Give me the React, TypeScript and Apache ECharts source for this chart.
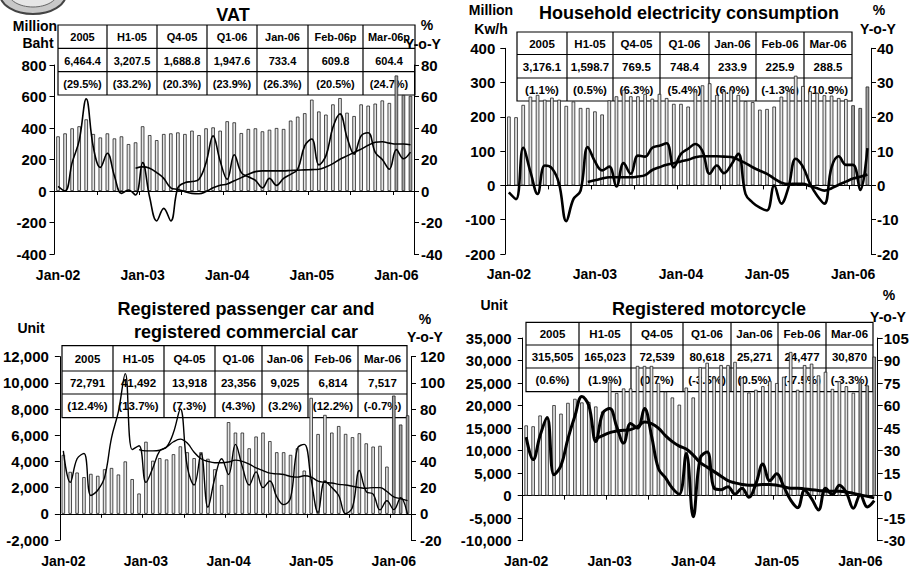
import React, { useEffect, useRef } from "react";
import * as echarts from "echarts";

const FONT = '"Liberation Sans", Arial, Helvetica, sans-serif';

const months = [
  "Jan-02","Feb-02","Mar-02","Apr-02","May-02","Jun-02","Jul-02","Aug-02","Sep-02","Oct-02","Nov-02","Dec-02",
  "Jan-03","Feb-03","Mar-03","Apr-03","May-03","Jun-03","Jul-03","Aug-03","Sep-03","Oct-03","Nov-03","Dec-03",
  "Jan-04","Feb-04","Mar-04","Apr-04","May-04","Jun-04","Jul-04","Aug-04","Sep-04","Oct-04","Nov-04","Dec-04",
  "Jan-05","Feb-05","Mar-05","Apr-05","May-05","Jun-05","Jul-05","Aug-05","Sep-05","Oct-05","Nov-05","Dec-05",
  "Jan-06","Feb-06","Mar-06"
];

// ---------- VAT ----------
const vatValues = [
  347, 366, 398, 411, 455, 362, 340, 366, 334, 347, 298, 309,
  411, 355, 323, 362, 366, 372, 362, 383, 355, 398, 404, 383,
  443, 436, 368, 394, 398, 379, 389, 400, 394, 447, 472, 494,
  580, 505, 485, 550, 590, 497, 476, 550, 542, 555, 575, 559,
  733.4, 609.8, 604.4
];
const vatYoY = [
  3, 0, 18, 32, 58.5, 28, 15, 24, 9.6, -1.5, 0.6, -2.5,
  18, -4, -19, -11, -19, 2, 5.3, 6, 7.4, 18, 35, 19,
  7.4, 23, 11.7, 9, 6.8, 2, 8, 3.6, 8, 10.6, 13.8, 28.7,
  33, 16.6, 22.3, 40.4, 49, 34, 23.4, 35, 37, 24.5, 20, 13.8,
  26.3, 20.5, 24.7
];
const vatCumYoY = [
  null, null, null, null, null, null, null, null, null, null, null, 14.5,
  15.3, 14.5, 11.7, 8, 2, 1, -0.4, -1.5, -1.7, -0.4, 2, 3.6,
  4.5, 6.5, 8.5, 10.6, 12.3, 12.8, 12.8, 12.8, 12.8, 13, 13.2, 13.4,
  13.6, 13.8, 15.3, 17.4, 20.2, 22.3, 24.5, 26.6, 29, 30.9, 31.3, 30.4,
  29.8, 29.8, 29.4
];
const vatHeader = ["2005", "H1-05", "Q4-05", "Q1-06", "Jan-06", "Feb-06p", "Mar-06p"];
const vatTotals = ["6,464.4", "3,207.5", "1,688.8", "1,947.6", "733.4", "609.8", "604.4"];
const vatGrowth = ["(29.5%)", "(33.2%)", "(20.3%)", "(23.9%)", "(26.3%)", "(20.5%)", "(24.7%)"];

// ---------- Electricity ----------
const elecValues = [
  201, 199, 235, 259, 264, 250, 256, 250, 232, 245, 226, 226,
  216, 207, 248, 260, 279, 260, 260, 267, 253, 267, 255, 238,
  238, 230, 274, 292, 298, 264, 275, 279, 264, 246, 243, 221,
  223, 230, 259, 275, 320, 290, 275, 270, 263, 262, 255, 252,
  233.9, 225.9, 288.5
];
const elecYoY = [
  -2, -4, 11, 4, -2.5, 5.8, 5, 0.5, -10.4, -4, -1.5, 11.2,
  7, 4.4, 5.5, -0.3, 6.5, 3.4, 8.7, 8.4, 11, 11.6, 12.3, 5.3,
  9.2, 10.7, 12.1, 10, 3.4, 5.8, 3.6, 6, 9.2, -2.5, -5, -6.5,
  -7.3, 0, -5.3, -0.5, 7.8, 5.5, 0.5, -3, -5.3, 5.3, 8.5, 6,
  6.0, -1.3, 10.9
];
const elecCumYoY = [
  null, null, null, null, null, null, null, null, null, null, null, 1,
  1.5, 2, 2.4, 2.4, 2.4, 2.4, 2.6, 3, 4.5, 5.3, 6, 6.5,
  7, 7.5, 8.2, 8.5, 8.5, 8.5, 8.4, 8.3, 7.5, 6.5, 5.3, 4.3,
  3.4, 2, 0.8, 0.4, 0.5, 0.5, -0.2, -0.8, -1.5, -0.8, 0.2, 1.1,
  2, 2.5, 3.2
];
const elecHeader = ["2005", "H1-05", "Q4-05", "Q1-06", "Jan-06", "Feb-06", "Mar-06"];
const elecTotals = ["3,176.1", "1,598.7", "769.5", "748.4", "233.9", "225.9", "288.5"];
const elecGrowth = ["(1.1%)", "(0.5%)", "(6.3%)", "(5.4%)", "(6.0%)", "(-1.3%)", "(10.9%)"];

// ---------- Cars ----------
const carValues = [
  4500, 3200, 3150, 2800, 3050, 2900, 3400, 3500, 3000, 4000, 2650, 1550,
  5500, 4050, 4250, 4150, 4550, 5150, 4700, 4250, 4700, 4200, 3400, 2200,
  7000, 6200, 6200, 5000, 5900, 6200, 5550, 4700, 4700, 4500, 5000, 3300,
  8850, 6090, 7550, 6200, 6700, 6100, 5850, 6150, 5380, 5130, 5190, 3600,
  9025, 6814, 7517
];
const carYoY = [
  48, 24, 42, 46, 14, 18, 28, 58, 78, 107, 49, 52,
  24, 35, 48, 51, 62, 80, 36, 22, 46, 5, 27, 42,
  30, 53, 36, 22, 32, 20, 25, 13, 7, 12, 50, 53,
  26, 1, 25, 20, 14, 0, 5, 33, 17, 15, 3, 10,
  3.2, 12.2, -0.7
];
const carCumYoY = [
  null, null, null, null, null, null, null, null, null, null, null, 49,
  48, 48, 48.5, 51, 55, 57, 54, 47, 42, 40, 39, 39,
  39.5, 41, 40, 38, 35, 33, 31, 30.5, 30, 28.5, 28, 29,
  28, 25, 24, 23.5, 22.5, 22, 21, 20, 19.5, 20, 20, 17,
  13, 11.5, 10
];
const carHeader = ["2005", "H1-05", "Q4-05", "Q1-06", "Jan-06", "Feb-06", "Mar-06"];
const carTotals = ["72,791", "41,492", "13,918", "23,356", "9,025", "6,814", "7,517"];
const carGrowth = ["(12.4%)", "(13.7%)", "(7.3%)", "(4.3%)", "(3.2%)", "(12.2%)", "(-0.7%)"];

// ---------- Motorcycle ----------
const motoValues = [
  15600, 15400, 17800, 17000, 20100, 18200, 20600, 21500, 20700, 20800, 19800, 18700,
  25300, 22800, 23800, 23800, 28800, 28800, 28800, 25000, 23100, 21800, 20200, 24000,
  21800, 28500, 29500, 26200, 29000, 29000, 29700, 26200, 22900, 23500, 24300, 25500,
  25000, 26400, 31900, 23500, 29000, 29300, 26700, 27500, 23700, 25400, 24300, 22840,
  25271, 24477, 30870
];
const motoYoY = [
  39, 24, 40, 52, 14, 20, 38, 53, 66, 60, 36, 55,
  58, 46, 35, 48, 45, 58, 40, 18, 12, 5, 1, 28,
  -14, 25, 29, 5, 4, 6, 1, 5, -1, 8, 21, 10,
  14.6, 6, -3, -8, 3.6, -2, -9.5, 5, 0.7, 7, 2, -8.4,
  0.5, -7.5, -3.3
];
const motoCumYoY = [
  null, null, null, null, null, null, null, null, null, null, 38, 40,
  42, 43, 43.5, 44, 46, 49, 48, 45, 40, 36, 33, 31,
  27, 22, 19, 16, 13, 10, 8.5, 7.5, 7, 7, 7.5, 7.5,
  7, 6, 5, 5, 4.5, 4, 3.5, 3, 3, 3, 2.5, 1.5,
  0.5, -0.5, -1.5
];
const motoHeader = ["2005", "H1-05", "Q4-05", "Q1-06", "Jan-06", "Feb-06", "Mar-06"];
const motoTotals = ["315,505", "165,023", "72,539", "80,618", "25,271", "24,477", "30,870"];
const motoGrowth = ["(0.6%)", "(1.9%)", "(0.7%)", "(-3.5%)", "(0.5%)", "(-7.5%)", "(-3.3%)"];

// ---------- layout ----------
type Panel = {
  grid: { left: number; top: number; width: number; height: number };
  yl: [number, number, number];
  yr: [number, number, number];
  bars: number[];
  yoy: (number | null)[];
  cum: (number | null)[];
  lw: number;
  xMargin: number;
  lMargin: number;
  rMargin: number;
  table: { cols: number[]; rows: number[]; lines: string[][]; size: number };
  texts: { t: string; x: number; y: number; s: number }[];
};

const panels: Panel[] = [
  {
    grid: { left: 54.5, top: 65, width: 359.5, height: 189 },
    yl: [-400, 800, 200], yr: [-40, 80, 20],
    bars: vatValues, yoy: vatYoY, cum: vatCumYoY, lw: 1.6,
    xMargin: 14, lMargin: 8, rMargin: 7,
    table: { cols: [58, 107, 157, 207, 257, 308, 363, 415], rows: [25, 48.3, 71.7, 95], lines: [vatHeader, vatTotals, vatGrowth], size: 11 },
    texts: [
      { t: "VAT", x: 233, y: 15, s: 18 },
      { t: "Million", x: 35, y: 26, s: 14 },
      { t: "Baht", x: 38, y: 43, s: 14 },
      { t: "%", x: 427, y: 25, s: 14 },
      { t: "Y-o-Y", x: 423, y: 44, s: 14 },
    ],
  },
  {
    grid: { left: 505.3, top: 48.3, width: 365.7, height: 205.7 },
    yl: [-200, 400, 100], yr: [-20, 40, 10],
    bars: elecValues, yoy: elecYoY, cum: elecCumYoY, lw: 2.6,
    xMargin: 13, lMargin: 10, rMargin: 6,
    table: { cols: [517, 567, 613, 660, 709, 756, 804, 852], rows: [32, 54.5, 78, 101], lines: [elecHeader, elecTotals, elecGrowth], size: 11.5 },
    texts: [
      { t: "Household electricity consumption", x: 689, y: 13, s: 18 },
      { t: "Million", x: 491, y: 10, s: 14 },
      { t: "Kw/h", x: 491, y: 29, s: 14 },
      { t: "%", x: 879, y: 10, s: 14 },
      { t: "Y-o-Y", x: 878, y: 29, s: 14 },
    ],
  },
  {
    grid: { left: 58.3, top: 356.6, width: 352.7, height: 183.4 },
    yl: [-2000, 12000, 2000], yr: [-20, 120, 20],
    bars: carValues, yoy: carYoY, cum: carCumYoY, lw: 1.4,
    xMargin: 14, lMargin: 11, rMargin: 9,
    table: { cols: [62, 113, 164, 215, 262, 308, 358, 407], rows: [345.7, 371, 394, 417.7], lines: [carHeader, carTotals, carGrowth], size: 11.5 },
    texts: [
      { t: "Registered passenger car and", x: 246, y: 309, s: 18 },
      { t: "registered commercial car", x: 246, y: 332, s: 18 },
      { t: "Unit", x: 31, y: 328, s: 14 },
      { t: "%", x: 425, y: 319, s: 14 },
      { t: "Y-o-Y", x: 425, y: 337, s: 14 },
    ],
  },
  {
    grid: { left: 522.7, top: 338, width: 355, height: 202.7 },
    yl: [-10000, 35000, 5000], yr: [-30, 105, 15],
    bars: motoValues, yoy: motoYoY, cum: motoCumYoY, lw: 3,
    xMargin: 13, lMargin: 11, rMargin: 6,
    table: { cols: [526, 579, 631, 683, 731, 778, 826, 873], rows: [322.3, 345, 368, 391.7], lines: [motoHeader, motoTotals, motoGrowth], size: 11.5 },
    texts: [
      { t: "Registered motorcycle", x: 709, y: 309, s: 18 },
      { t: "Unit", x: 494, y: 305, s: 14 },
      { t: "%", x: 889, y: 295, s: 14 },
      { t: "Y-o-Y", x: 888, y: 317, s: 14 },
    ],
  },
];

const fmt = (v: number) => v.toLocaleString("en-US");

function textEl(t: string, x: number, y: number, size: number) {
  return {
    type: "text",
    x,
    y,
    style: {
      text: t,
      fill: "#000",
      fontSize: size,
      fontWeight: "bold",
      fontFamily: FONT,
      align: "center",
      verticalAlign: "middle",
      textAlign: "center",
      textVerticalAlign: "middle",
    },
  };
}

function buildOption() {
  const grid: any[] = [];
  const xAxis: any[] = [];
  const yAxis: any[] = [];
  const series: any[] = [];
  const graphic: any[] = [];

  // emblem at top-left
  graphic.push({
    type: "ellipse",
    shape: { cx: 33, cy: -6, rx: 33, ry: 20 },
    style: { fill: "#c8c8c8", stroke: "#444", lineWidth: 2 },
  });
  graphic.push({
    type: "ellipse",
    shape: { cx: 33, cy: -8, rx: 25, ry: 15 },
    style: { fill: "#e6e6e6", stroke: "#666", lineWidth: 1 },
  });

  panels.forEach((p, k) => {
    grid.push({ ...p.grid, containLabel: false });
    const labelStyle = { color: "#000", fontWeight: "bold", fontFamily: FONT };
    xAxis.push({
      type: "category",
      gridIndex: k,
      data: months,
      position: "bottom",
      boundaryGap: true,
      axisLine: { show: false, onZero: false },
      axisTick: { show: false },
      axisLabel: { ...labelStyle, fontSize: 14, interval: 11, margin: p.xMargin },
      splitLine: { show: false },
    });
    xAxis.push({
      type: "category",
      gridIndex: k,
      data: months,
      position: "bottom",
      boundaryGap: true,
      axisLine: { show: true, onZero: true, lineStyle: { color: "#000", width: 1 } },
      axisTick: { show: true, interval: 5, length: 4, lineStyle: { color: "#000" } },
      axisLabel: { show: false },
      splitLine: { show: false },
    });
    yAxis.push({
      type: "value",
      gridIndex: k,
      position: "left",
      min: p.yl[0],
      max: p.yl[1],
      interval: p.yl[2],
      axisLine: { show: true, onZero: false, lineStyle: { color: "#000", width: 1 } },
      axisTick: { show: true, length: 5, lineStyle: { color: "#000" } },
      axisLabel: { ...labelStyle, fontSize: 15, margin: p.lMargin, formatter: fmt },
      splitLine: { show: false },
    });
    yAxis.push({
      type: "value",
      gridIndex: k,
      position: "right",
      min: p.yr[0],
      max: p.yr[1],
      interval: p.yr[2],
      axisLine: { show: true, onZero: false, lineStyle: { color: "#000", width: 1 } },
      axisTick: { show: true, length: 5, lineStyle: { color: "#000" } },
      axisLabel: { ...labelStyle, fontSize: 15, margin: p.rMargin, formatter: fmt },
      splitLine: { show: false },
    });

    const n = p.bars.length;
    series.push({
      type: "bar",
      xAxisIndex: 2 * k,
      yAxisIndex: 2 * k,
      barWidth: "50%",
      data: p.bars.map((v, i) =>
        i >= n - 3 ? { value: v, itemStyle: { color: "#a3a3a3" } } : v
      ),
      itemStyle: { color: "#e4e4e4", borderColor: "#222", borderWidth: 0.8 },
      z: 2,
    });
    series.push({
      type: "line",
      xAxisIndex: 2 * k,
      yAxisIndex: 2 * k + 1,
      data: p.yoy,
      smooth: 0.4,
      symbol: "none",
      lineStyle: { color: "#000", width: p.lw },
      z: 3,
    });
    series.push({
      type: "line",
      xAxisIndex: 2 * k,
      yAxisIndex: 2 * k + 1,
      data: p.cum,
      smooth: 0.4,
      symbol: "none",
      lineStyle: { color: "#000", width: p.lw },
      z: 3,
    });

    // table
    const { cols, rows, lines, size } = p.table;
    graphic.push({
      type: "rect",
      shape: { x: cols[0], y: rows[0], width: cols[cols.length - 1] - cols[0], height: rows[rows.length - 1] - rows[0] },
      style: { fill: "rgba(0,0,0,0)", stroke: "#000", lineWidth: 1.2 },
    });
    for (let c = 1; c < cols.length - 1; c++) {
      graphic.push({
        type: "line",
        shape: { x1: cols[c], y1: rows[0], x2: cols[c], y2: rows[rows.length - 1] },
        style: { stroke: "#000", lineWidth: 1.2 },
      });
    }
    for (let r = 1; r < rows.length - 1; r++) {
      graphic.push({
        type: "line",
        shape: { x1: cols[0], y1: rows[r], x2: cols[cols.length - 1], y2: rows[r] },
        style: { stroke: "#000", lineWidth: 1.2 },
      });
    }
    lines.forEach((row, r) => {
      row.forEach((cell, c) => {
        graphic.push(textEl(cell, (cols[c] + cols[c + 1]) / 2, (rows[r] + rows[r + 1]) / 2 + 0.5, size));
      });
    });

    p.texts.forEach((t) => graphic.push(textEl(t.t, t.x, t.y, t.s)));
  });

  return {
    animation: false,
    backgroundColor: "#fff",
    grid,
    xAxis,
    yAxis,
    series,
    graphic,
  };
}

export default function App() {
  const ref = useRef<HTMLDivElement>(null);
  useEffect(() => {
    if (!ref.current) return;
    const chart = echarts.init(ref.current, undefined, { renderer: "svg" });
    chart.setOption(buildOption() as any);
    return () => chart.dispose();
  }, []);
  return (
    <div
      ref={ref}
      style={{ position: "absolute", left: 0, top: 0, width: 916, height: 573, background: "#fff" }}
    />
  );
}
